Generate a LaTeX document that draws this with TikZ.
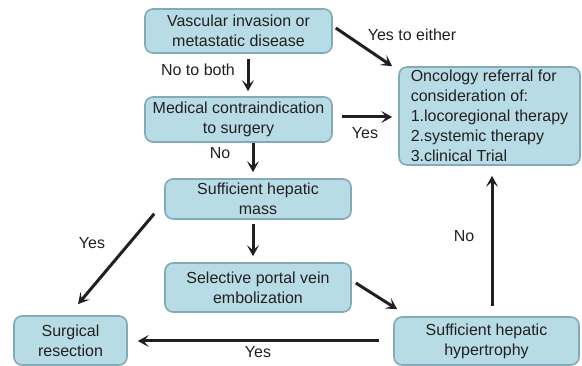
\documentclass[tikz,border=0pt]{standalone}
\usepackage{fontspec}
\setmainfont{Liberation Sans}
\usetikzlibrary{arrows.meta,calc}
\definecolor{boxfill}{HTML}{B8DCE6}
\definecolor{boxline}{HTML}{82AAB8}
\definecolor{ink}{HTML}{231F20}
\begin{document}
\begin{tikzpicture}[x=1pt,y=-1pt,
  box/.style={draw=boxline,fill=boxfill,line width=1.6pt,rounded corners=8pt,
    align=center,inner sep=0pt,text=ink,font=\fontsize{16}{20}\selectfont},
  lbl/.style={text=ink,inner sep=0pt,font=\fontsize{16}{20}\selectfont},
  arr/.style={draw=ink,line width=3pt,-{Stealth[length=11pt,width=12pt,inset=5pt]}}]
\useasboundingbox (0,0) rectangle (582,366);
\node[box,minimum width=187pt,minimum height=44pt] (b1) at (238.5,31) {Vascular invasion or\\metastatic disease};
\node[box,minimum width=187pt,minimum height=45pt] (b2) at (238.5,119.5) {Medical contraindication\\to surgery};
\node[box,minimum width=186pt,minimum height=40pt] (b3) at (258,199) {Sufficient hepatic\\mass};
\node[box,minimum width=186pt,minimum height=49pt] (b4) at (258,287.5) {Selective portal vein\\embolization};
\node[box,minimum width=113pt,minimum height=49pt] (b5) at (70.5,340.5) {Surgical\\resection};
\node[box,minimum width=185pt,minimum height=48pt] (b6) at (486.5,341) {Sufficient hepatic\\hypertrophy};
\node[box,minimum width=181pt,minimum height=98pt,align=left] (b7) at (489.5,116) {Oncology referral for\\consideration of:\\1.locoregional therapy\\2.systemic therapy\\3.clinical Trial};
% connectors
\draw[arr] ($(b1.south)+(9.5,5)$) -- ($(b2.north)+(9.5,-5)$);
\draw[arr] ($(b2.south)+(14.5,0)$) -- ($(b3.north)+(-5,-6)$);
\draw[arr] ($(b3.south)+(-5,4)$) -- ($(b4.north)+(-5,-6)$);
\draw[arr] ($(b1.east)+(3,-3)$) -- ($(b7.north west)+(-6,0)$);
\draw[arr] ($(b2.east)+(9,-2.5)$) -- ($(b7.west)+(-6,1)$);
\draw[arr] ($(b3.south west)+(-10,-6)$) -- ($(b5.north)+(7.5,-11)$);
\draw[arr] ($(b4.east)+(4,-4.5)$) -- ($(b6.north west)+(4,-7)$);
\draw[arr] ($(b6.west)+(-14,0)$) -- ($(b5.east)+(10,0.5)$);
\draw[arr] ($(b6.north)+(5.5,-10)$) -- ($(b7.south)+(2.5,10)$);
% labels
\node[lbl] (l1) at (198,70) {No to both};
\node[lbl] (l2) at (220,153) {No};
\node[lbl] (l3) at (412,35) {Yes to either};
\node[lbl] (l4) at (365,133) {Yes};
\node[lbl] (l5) at (92,243) {Yes};
\node[lbl] (l6) at (258,352) {Yes};
\node[lbl] (l7) at (464,236) {No};
\end{tikzpicture}
\end{document}
